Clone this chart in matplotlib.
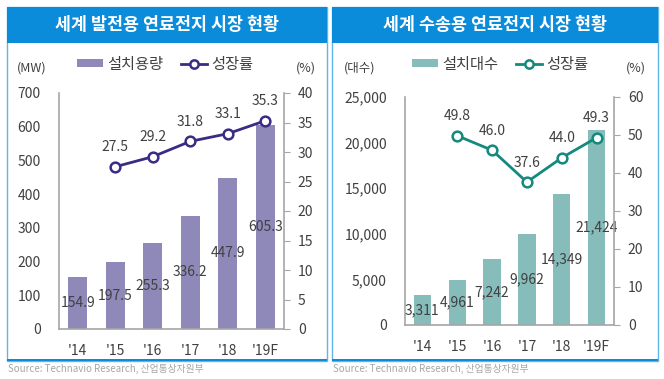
import matplotlib
matplotlib.use("Agg")
import matplotlib.pyplot as plt
from matplotlib.patches import Rectangle, Patch
from matplotlib.lines import Line2D

plt.rcParams['font.family'] = ['Noto Sans CJK KR', 'DejaVu Sans']

years = ["'14", "'15", "'16", "'17", "'18", "'19F"]

# 발전용
power_capacity = [154.9, 197.5, 255.3, 336.2, 447.9, 605.3]
power_growth = [27.5, 29.2, 31.8, 33.1, 35.3]
power_cap_labels = ["154.9", "197.5", "255.3", "336.2", "447.9", "605.3"]

# 수송용
trans_units = [3311, 4961, 7242, 9962, 14349, 21424]
trans_growth = [49.8, 46.0, 37.6, 44.0, 49.3]
trans_unit_labels = ["3,311", "4,961", "7,242", "9,962", "14,349", "21,424"]

W, H = 664, 379
TEXT = '#404040'
GRID = '#a6a6a6'
BLUE = '#0b8cda'


def fx(px):
    return px / W


def fy(py):
    return 1 - py / H


fig = plt.figure(figsize=(W / 100, H / 100), dpi=100)


def panel(x0, x1, title):
    # frame + title bar
    fig.patches.append(Rectangle((fx(x0), fy(361)), fx(x1 - x0), fy(7) - fy(361),
                                 transform=fig.transFigure, fill=False,
                                 edgecolor='#62b3e6', linewidth=1.0))
    fig.patches.append(Rectangle((fx(x0), fy(361)), fx(x1 - x0), fy(359) - fy(361),
                                 transform=fig.transFigure, facecolor=BLUE,
                                 edgecolor='none'))
    fig.patches.append(Rectangle((fx(x0), fy(43)), fx(x1 - x0), fy(7) - fy(43),
                                 transform=fig.transFigure, facecolor=BLUE,
                                 edgecolor='none'))
    fig.text(fx((x0 + x1) / 2), fy(25), title, color='white', fontsize=12.5,
             fontweight='bold', ha='center', va='center')
    fig.text(fx(x0 + 1), fy(369), "Source: Technavio Research, 산업통상자원부",
             color='#a6a6a6', fontsize=7, ha='left', va='center')


def chart(box, values, val_labels, growth, ymax, yticks, ytick_labels,
          gmax, gticks, bar_color, line_color, bar_name, legend_x):
    left, top, right, bottom = box
    ax = fig.add_axes([fx(left), fy(bottom), fx(right - left), fy(top) - fy(bottom)])
    x = list(range(len(years)))
    ax.bar(x, values, width=0.5, color=bar_color, zorder=1)
    for xi, v, lab in zip(x, values, val_labels):
        ax.text(xi, v / 2, lab, ha='center', va='center', fontsize=10, color=TEXT)
    ax.set_xlim(-0.5, len(years) - 0.5)
    ax.set_ylim(0, ymax)
    ax.set_yticks(yticks)
    ax.set_yticklabels(ytick_labels)
    ax.set_xticks(x)
    ax.set_xticklabels(years)
    ax.tick_params(axis='y', length=0, pad=13, labelsize=10, labelcolor=TEXT)
    ax.tick_params(axis='x', length=0, pad=11, labelsize=10, labelcolor=TEXT)
    for s in ['top', 'right']:
        ax.spines[s].set_visible(False)
    for s in ['left', 'bottom']:
        ax.spines[s].set_color(GRID)
        ax.spines[s].set_linewidth(1.2)

    ax2 = ax.twinx()
    gx = x[1:]
    ax2.plot(gx, growth, color=line_color, linewidth=2, marker='o',
             markersize=7, markerfacecolor='white', markeredgewidth=1.8,
             zorder=3)
    for xi, g in zip(gx, growth):
        ax2.annotate(f"{g:.1f}", (xi, g), xytext=(0, 9), textcoords='offset points',
                     ha='center', va='bottom', fontsize=10, color=TEXT)
    ax2.set_ylim(0, gmax)
    ax2.set_yticks(gticks)
    ax2.tick_params(axis='y', direction='out', length=4, color=GRID,
                    labelsize=10, labelcolor=TEXT, pad=6)
    for s in ['top', 'left', 'bottom']:
        ax2.spines[s].set_visible(False)
    ax2.spines['right'].set_color(GRID)
    ax2.spines['right'].set_linewidth(1.2)

    handles = [Patch(facecolor=bar_color, edgecolor='none'),
               Line2D([], [], color=line_color, linewidth=2, marker='o',
                      markersize=6, markerfacecolor='white', markeredgewidth=1.8)]
    ax.legend(handles, [bar_name, "성장률"], ncol=2, loc='center',
              bbox_to_anchor=(fx(legend_x), fy(64)), bbox_transform=fig.transFigure,
              frameon=False, fontsize=11, handlelength=1.7, handleheight=0.5,
              handletextpad=0.25, columnspacing=1.2, labelcolor=TEXT)
    return ax


panel(7, 327, "세계 발전용 연료전지 시장 현황")
panel(332, 658, "세계 수송용 연료전지 시장 현황")

chart((59, 93, 284, 329), power_capacity, power_cap_labels, power_growth,
      700, range(0, 701, 100), [str(v) for v in range(0, 701, 100)],
      40, range(0, 41, 5), '#8f89b9', '#3b2b86', "설치용량", 165)
fig.text(fx(17), fy(68), "(MW)", fontsize=9, color=TEXT, ha='left', va='center')
fig.text(fx(306), fy(68), "(%)", fontsize=9, color=TEXT, ha='center', va='center')

chart((405, 97, 614, 325), trans_units, trans_unit_labels, trans_growth,
      25000, range(0, 25001, 5000), [f"{v:,}" for v in range(0, 25001, 5000)],
      60, range(0, 61, 10), '#86bdba', '#138a7d', "설치대수", 500)
fig.text(fx(344), fy(68), "(대수)", fontsize=9, color=TEXT, ha='left', va='center')
fig.text(fx(636), fy(68), "(%)", fontsize=9, color=TEXT, ha='center', va='center')

fig.savefig("out.png", dpi=100)
